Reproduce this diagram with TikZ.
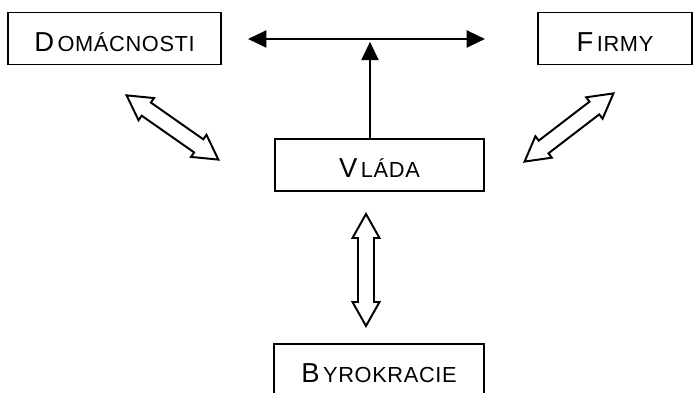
\documentclass[tikz,border=0pt]{standalone}
\usepackage{fontspec}
\setmainfont{Liberation Sans}
\newfontfamily\boxfont[LetterSpace=3]{Liberation Sans}
\usetikzlibrary{arrows.meta}
\newcommand{\capword}[2]{{\fontsize{19.5}{21}\selectfont #1\kern2.5pt}{\fontsize{15.5}{17}\selectfont #2}}

\begin{document}
\begin{tikzpicture}[
    agent/.style={rectangle, draw=black, line width=1.4pt, minimum height=1.3cm,
                  text height=18pt, text depth=0pt, inner xsep=0pt, font=\boxfont},
    link/.style={line width=1.7pt},
    tip/.tip={Triangle[length=13pt, width=12pt]},
    flow/.pic={
        \draw[line width=1.4pt, fill=white, line join=miter]
            (-1.4,0) -- (-0.8,0.3375) -- (-0.8,0.2) -- (0.8,0.2) -- (0.8,0.3375)
            -- (1.4,0) -- (0.8,-0.3375) -- (0.8,-0.2) -- (-0.8,-0.2)
            -- (-0.8,-0.3375) -- cycle;
    }
]
\useasboundingbox (0,0) rectangle (17.35,9.825);

\node[agent, minimum width=5.325cm] (domacnosti) at (2.8625, 8.8625) {\capword{D}{OMÁCNOSTI}};
\node[agent, minimum width=3.85cm]  (firmy)      at (15.375, 8.8625) {\capword{F}{IRMY}};
\node[agent, minimum width=5.225cm] (vlada)      at (9.4875, 5.7)    {\capword{V}{LÁDA}};
\node[agent, minimum width=5.25cm, anchor=north] (byrokracie) at (9.475, 1.25) {\capword{B}{YROKRACIE}};

% arrow between households and firms, fed from the government
\coordinate (lft) at (6.2, 8.85);
\coordinate (rgt) at (12.125, 8.85);
\coordinate (hub) at (9.25, 8.78);
\draw[link, tip-tip] (lft) -- (rgt);
\draw[link, -tip] (vlada.north -| hub) -- (hub);

% two-way flows
\pic[rotate=-35]  at (4.3125, 6.6375) {flow};
\pic[rotate=37.5] at (14.225, 6.6375) {flow};
\pic[rotate=90]   at (9.15, 3.075)    {flow};
\end{tikzpicture}
\end{document}
